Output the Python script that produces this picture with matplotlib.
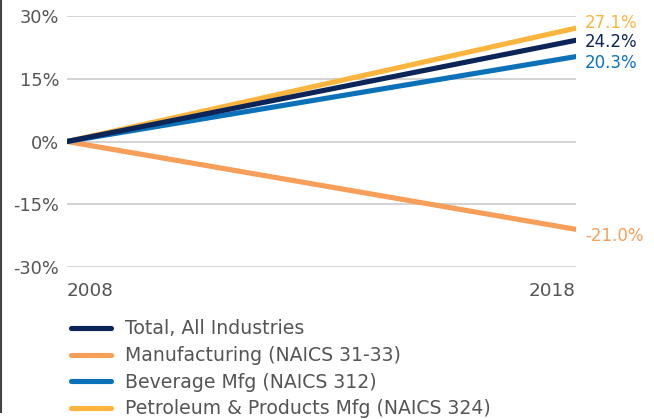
import matplotlib
matplotlib.use("Agg")
import matplotlib.pyplot as plt
from matplotlib.lines import Line2D

years = [2008, 2018]
series_names = [
    "Total, All Industries",
    "Manufacturing (NAICS 31-33)",
    "Beverage Mfg (NAICS 312)",
    "Petroleum & Products Mfg (NAICS 324)",
]
total = [0.0, 24.2]
manufacturing = [0.0, -21.0]
beverage = [0.0, 20.3]
petroleum = [0.0, 27.1]
y_ticks = [-30, -15, 0, 15, 30]

colors = {
    "total": "#0b2559",
    "manufacturing": "#f79e59",
    "beverage": "#0b72b9",
    "petroleum": "#fbb53f",
}
text_gray = "#555555"

plt.rcParams["font.family"] = ["DejaVu Sans"]

fig = plt.figure(figsize=(6.54, 4.19), dpi=100)
W, H = 654, 419
ax = fig.add_axes([67 / W, 1 - 267 / H, (576 - 67) / W, (267 - 16) / H])

for yt in y_ticks:
    ax.axhline(yt, color="#cccccc", lw=1.2, zorder=1)

lw = 3.7
draw = [
    ("manufacturing", manufacturing),
    ("petroleum", petroleum),
    ("beverage", beverage),
    ("total", total),
]
for key, vals in draw:
    ax.plot(years, vals, color=colors[key], lw=lw, solid_capstyle="round", zorder=3)

# end-of-line value labels, baseline offsets in points
label_dy = {"petroleum": 0.4, "total": -5.2, "beverage": -7.9, "manufacturing": -8.1}
for key, vals in draw:
    ax.annotate(f"{vals[-1]:.1f}%", xy=(years[-1], vals[-1]),
                xytext=(6.3, label_dy[key]), textcoords="offset points",
                color=colors[key], fontsize=12,
                va="baseline", ha="left", annotation_clip=False)

ax.set_xlim(2008, 2018)
ax.set_ylim(-30, 30)
ax.set_yticks(y_ticks)
ax.set_yticklabels([f"{t}%" for t in y_ticks])
ax.set_xticks(years)
ax.set_xticklabels([str(y) for y in years])
ax.tick_params(axis="both", length=0, labelcolor=text_gray)
ax.tick_params(axis="y", pad=5.5, labelsize=12.8)
ax.tick_params(axis="x", pad=10.5, labelsize=13.2)
for lbl, ha in zip(ax.get_xticklabels(), ["left", "right"]):
    lbl.set_ha(ha)
for s in ax.spines.values():
    s.set_visible(False)

# legend: handle segments and labels stacked below the plot
row_y = [328, 354.5, 381, 407.5]
for key, name, y in zip(["total", "manufacturing", "beverage", "petroleum"], series_names, row_y):
    fig.add_artist(Line2D([70.5 / W, 111.5 / W], [1 - y / H, 1 - y / H],
                          color=colors[key], lw=lw, solid_capstyle="round",
                          transform=fig.transFigure))
    fig.text(125 / W, 1 - (y + 6.5) / H, name, color=text_gray, fontsize=13.6,
             ha="left", va="baseline")

# thin rule on the left edge of the figure
fig.add_artist(Line2D([0.5 / W, 0.5 / W], [1 - 412 / H, 1], color="#444444", lw=1.5,
                      transform=fig.transFigure))

fig.savefig("out.png", dpi=100)
